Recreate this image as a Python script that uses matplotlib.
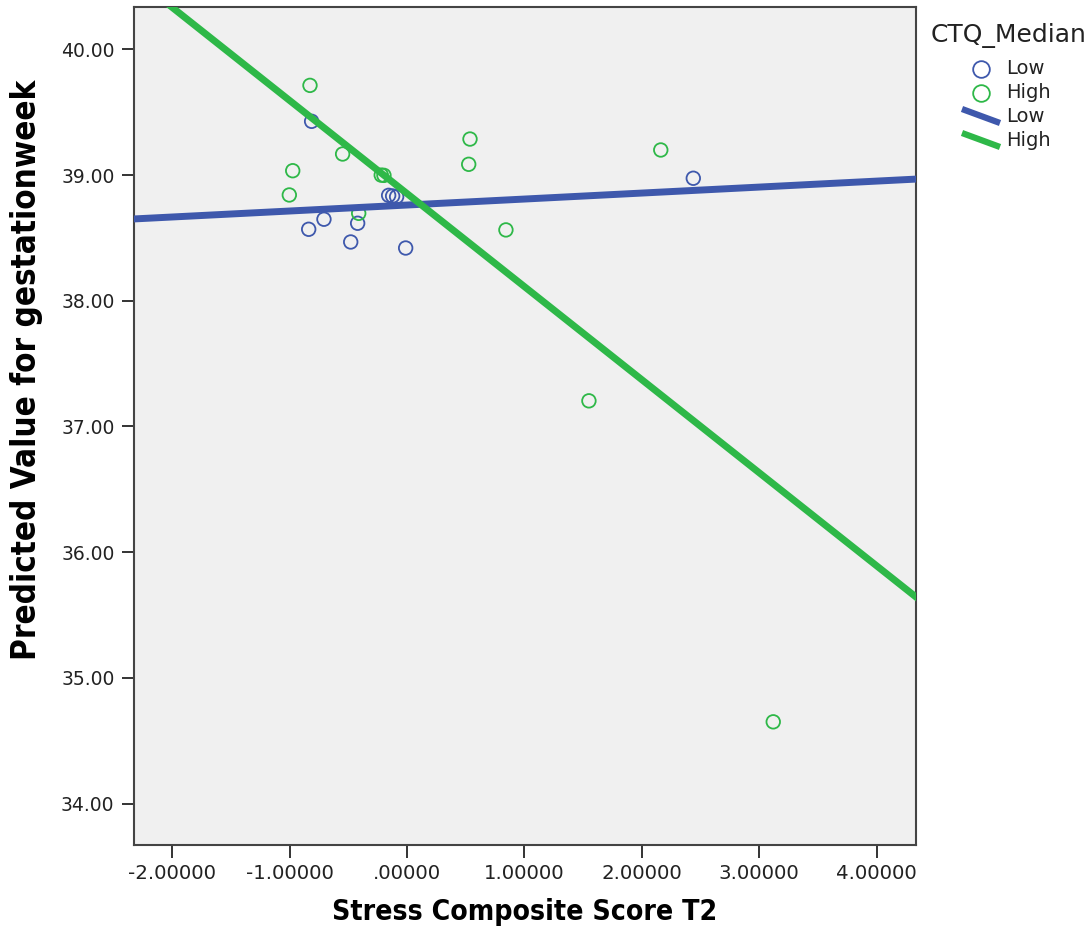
import numpy as np
import matplotlib
matplotlib.use("Agg")
import matplotlib.pyplot as plt
from matplotlib.lines import Line2D
from matplotlib import font_manager

# ---- data ----
low_x = [-0.813, -0.157, -0.123, -0.089, -0.708, -0.838, -0.421, -0.480, -0.012, 2.438]
low_y = [39.428, 38.839, 38.834, 38.828, 38.649, 38.569, 38.617, 38.468, 38.420, 38.975]
high_x = [-0.827, -0.974, -1.003, -0.549, -0.197, -0.220, 0.536, 0.525, -0.412, 0.842, 1.549, 2.161, 3.119]
high_y = [39.714, 39.035, 38.842, 39.168, 38.998, 39.000, 39.287, 39.086, 38.696, 38.564, 37.204, 39.200, 34.650]
# fit lines: intercept, slope
low_fit = (38.762, 0.0476)
high_fit = (38.853, -0.7405)

x_ticks = [-2, -1, 0, 1, 2, 3, 4]
x_tick_labels = ["-2.00000", "-1.00000", ".00000", "1.00000", "2.00000", "3.00000", "4.00000"]
y_ticks = [34, 35, 36, 37, 38, 39, 40]
y_tick_labels = ["34.00", "35.00", "36.00", "37.00", "38.00", "39.00", "40.00"]
group_labels = ["Low", "High"]
legend_title = "CTQ_Median"
x_label = "Stress Composite Score T2"
y_label = "Predicted Value for gestationweek"

BLUE = "#3E58AC"
GREEN = "#2EB848"

W, H = 1091, 930
fig = plt.figure(figsize=(W / 100, H / 100), dpi=100)
fig.patch.set_facecolor("white")

def fx(px):
    return px / W

def fy(py):
    return 1 - py / H

ax = fig.add_axes([fx(134), fy(845), fx(916) - fx(134), fy(6.7) - fy(845)])
ax.set_facecolor("#F0F0F0")
xlim = (-2.326, 4.335)
ylim = (33.67, 40.34)
ax.set_xlim(*xlim)
ax.set_ylim(*ylim)

ax.scatter(low_x, low_y, s=95, facecolors="none", edgecolors=BLUE, linewidths=1.3, zorder=2)
ax.scatter(high_x, high_y, s=95, facecolors="none", edgecolors=GREEN, linewidths=1.3, zorder=2)

xs = np.linspace(xlim[0] - 0.1, xlim[1] + 0.1, 200)
ax.plot(xs, low_fit[0] + low_fit[1] * xs, color=BLUE, lw=5, solid_capstyle="butt", zorder=3)
ax.plot(xs, high_fit[0] + high_fit[1] * xs, color=GREEN, lw=5, solid_capstyle="butt", zorder=4)

for sp in ax.spines.values():
    sp.set_color("#444444")
    sp.set_linewidth(1.5)

ax.set_xticks(x_ticks)
ax.set_xticklabels(x_tick_labels)
ax.set_yticks(y_ticks)
ax.set_yticklabels(y_tick_labels)
ax.tick_params(direction="out", length=9, width=1.4, color="#333333",
               labelsize=13.5, labelcolor="#222222", pad=5)
ax.tick_params(axis="x", labelsize=14.2)

# condensed bold font for axis titles if available
names = {f.name for f in font_manager.fontManager.ttflist}
if "Liberation Sans Narrow" in names:
    base = dict(family=["Liberation Sans Narrow"], weight="bold")
    bsize = 22
elif "DejaVu Sans Condensed" in names:
    base = dict(family=["DejaVu Sans Condensed"], weight="bold")
    bsize = 20
else:
    base = dict(family=["DejaVu Sans"], stretch="condensed", weight="bold")
    bsize = 19
fig.text(fx(525), fy(912), x_label, ha="center", va="center", size=bsize * 1.07, **base)
fig.text(fx(27), fy(370), y_label, ha="center", va="center", rotation=90, size=bsize * 1.25, **base)

# legend (manual)
fig.text(fx(931), fy(35), legend_title, ha="left", va="center", size=18, color="#222222")
colors = [BLUE, GREEN]
for i, (lab, c) in enumerate(zip(group_labels, colors)):
    yc = 69 + i * 24
    fig.add_artist(Line2D([fx(981)], [fy(yc)], marker="o", markersize=12, markerfacecolor="none",
                          markeredgecolor=c, markeredgewidth=1.3, transform=fig.transFigure))
    fig.text(fx(1006), fy(yc), lab, ha="left", va="center", size=14, color="#222222")
for i, (lab, c) in enumerate(zip(group_labels, colors)):
    yc = 117 + i * 24
    fig.add_artist(Line2D([fx(962), fx(1000)], [fy(yc - 8), fy(yc + 6)], color=c, lw=4.5,
                          solid_capstyle="butt", transform=fig.transFigure))
    fig.text(fx(1006), fy(yc), lab, ha="left", va="center", size=14, color="#222222")

fig.savefig("out.png", dpi=100)
